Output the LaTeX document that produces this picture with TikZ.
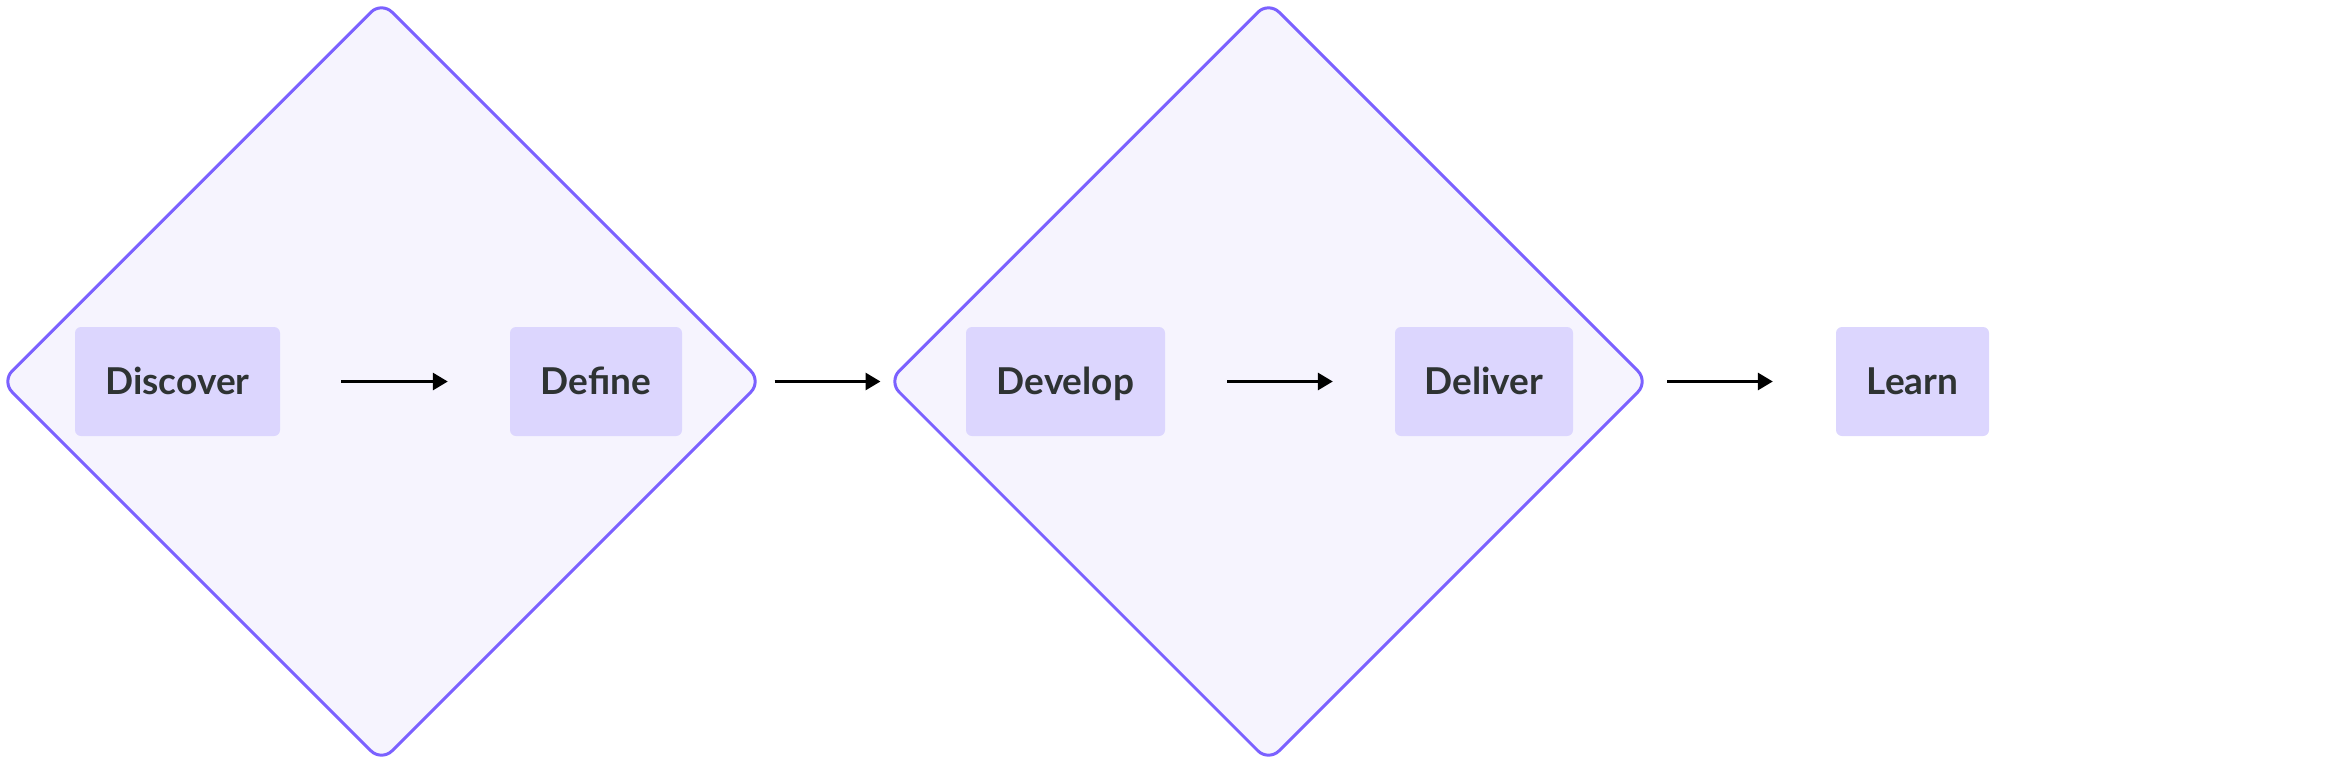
\documentclass[tikz,border=0pt]{standalone}
\usepackage{fontspec}
\setmainfont{Lato}
\usetikzlibrary{shapes.geometric,arrows.meta}
\definecolor{dfill}{HTML}{F6F4FE}
\definecolor{dline}{HTML}{7B61FF}
\definecolor{bfill}{HTML}{DCD6FE}
\definecolor{btext}{HTML}{2E3333}
\begin{document}
\begin{tikzpicture}[x=1pt,y=-1pt,
 phase/.style={diamond, aspect=1, draw=dline, fill=dfill, line width=3pt, rounded corners=15pt, minimum width=761pt, minimum height=761pt, inner sep=0pt},
 stage/.style={rectangle, fill=bfill, rounded corners=6pt, text=btext, font=\fontsize{37}{40}\selectfont\bfseries, minimum height=109pt, inner sep=0pt, text height=26.5pt, text depth=0pt},
 flow/.style={-{Triangle[length=15pt,width=17pt]}, line width=3pt, black}]
\useasboundingbox (0,0) rectangle (2327,764);
\node[phase] (d1) at (381.5,381.5) {};
\node[phase] (d2) at (1268.5,381.5) {};
\node[stage, minimum width=205pt] (discover) at (177.5,381.5) {Discover};
\node[stage, minimum width=172pt] (define) at (596,381.5) {Define};
\node[stage, minimum width=199pt] (develop) at (1065.5,381.5) {Develop};
\node[stage, minimum width=178pt] (deliver) at (1484,381.5) {Deliver};
\node[stage, minimum width=153pt] (learn) at (1912.5,381.5) {Learn};
\draw[flow, shorten <=61pt, shorten >=62pt] (discover) -- (define);
\draw[flow, shorten <=62pt, shorten >=62pt] (develop) -- (deliver);
\draw[flow, shorten <=11pt, shorten >=6pt] (d1.east) -- (d2.west);
\draw[flow, shorten <=16.5pt, shorten >=63pt] (d2.east) -- (learn.west);
\end{tikzpicture}
\end{document}
